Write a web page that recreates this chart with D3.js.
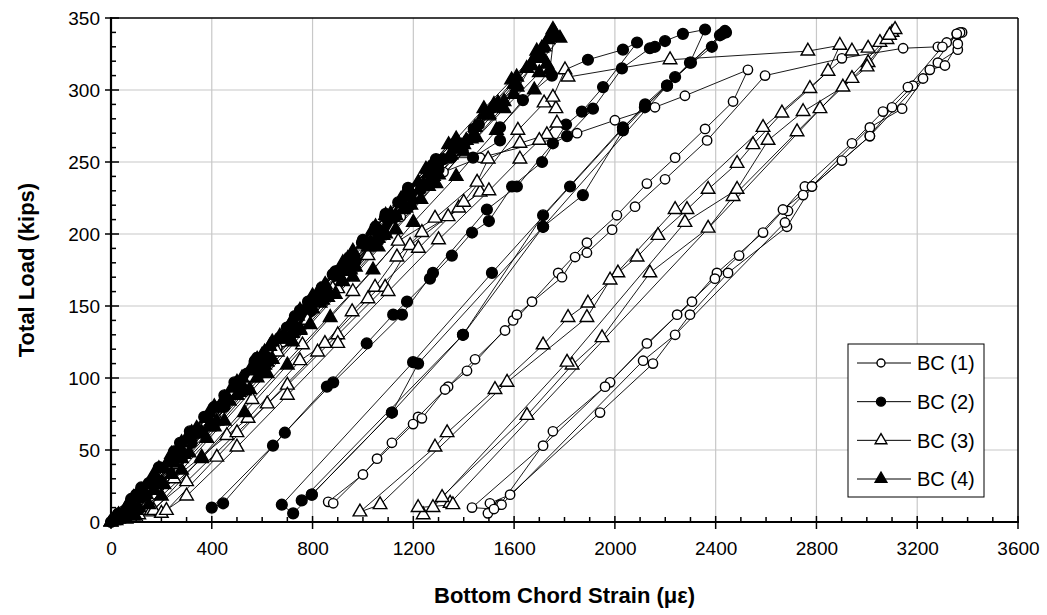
<!DOCTYPE html>
<html><head><meta charset="utf-8">
<script src="https://cdn.jsdelivr.net/npm/d3@7"></script>
<style>body{margin:0;background:#fff} text{font-family:"Liberation Sans",Arial,sans-serif;fill:#000}</style>
</head><body><svg id="c" width="1047" height="615"></svg>
<script>
const xTicks=[0,400,800,1200,1600,2000,2400,2800,3200,3600];
const yTicks=[0,50,100,150,200,250,300,350];
const seriesNames=["BC (1)","BC (2)","BC (3)","BC (4)"];
const xTitle="Bottom Chord Strain (\u03bc\u03b5)";
const yTitle="Total Load (kips)";

// [strain (microstrain), load (kips)] in test order
const bc1=[
[0,0],[50,8],[150,25],[290,52],[420,77],[550,101],[680,125],[810,150],[940,174],[1070,198],[1150,212],
[1060,195],[900,165],[740,135],[570,103],[400,71],[230,40],[90,14],[30,3],
[40,4],[120,18],[260,44],[400,71],[530,96],[660,121],[800,147],[930,171],[1060,196],[1190,220],[1320,243],[1465,253],
[1850,270],[2000,279],[2159,288],[2278,296],[2528,314],
[2469,292],[2358,273],[2239,253],[2127,235],[2008,213],[1889,194],[1775,173],[1671,153],[1564,133],[1445,113],[1338,94],[1219,73],[1115,55],[1056,44],[1000,33],[862,14],
[882,13],[1199,68],[1234,72],[1326,92],[1413,105],[1596,140],[1611,144],[1790,170],[1842,184],[1889,187],[1989,203],[2080,219],[2199,238],[2366,265],[2596,310],
[2901,322],[3144,329],[3282,330],[3317,333],[3357,339],[3378,340],
[3361,328],[3282,319],[3183,303],[3100,288],[3012,268],[2901,251],[2782,233],[2683,205],[2449,173],[2298,144],[2151,110],[1941,76],[1584,19],[1504,13],
[1496,6],[1544,12],[1754,63],[1981,97],[2127,124],[2306,153],[2405,173],[2588,201],[2754,233],[2941,263],[3064,285],[3163,302],[3300,330],[3370,340],
[3361,332],[3310,317],[3250,314],[3140,287],[3012,274],[2747,227],[2687,216],[2675,208],[2239,130],[2112,112],[1550,12],[1520,9],
[1433,10],[1715,53],[1961,94],[2247,144],[2397,169],[2493,185],[2667,217],[2782,233],[3012,268],[3223,308],[3357,339]
];
const bc2=[
[0,0],[30,6],[120,24],[194,38],[274,55],[370,73],[490,97],[571,112],[698,135],[782,153],[880,172],[996,194],[1088,212],[1140,222],
[1050,205],[890,174],[730,143],[570,111],[410,80],[250,49],[100,19],[20,3],
[10,2],[80,16],[190,38],[313,63],[450,88],[580,114],[750,147],[837,163],[897,174],[1000,196],[1090,214],[1179,232],[1290,252],[1353,262],
[1290,245],[1130,212],[950,177],[770,142],[590,107],[410,72],[230,37],[90,10],
[30,3],[150,27],[280,53],[410,78],[540,103],[670,128],[800,153],[930,178],[1060,203],[1190,228],[1320,252],[1440,273],[1520,288],
[1460,276],[1300,245],[1130,212],[960,179],[790,146],[620,113],[450,80],[280,47],[120,17],[40,4],
[60,6],[190,29],[320,55],[450,80],[580,105],[710,130],[840,156],[970,181],[1100,206],[1230,231],[1350,253],[1437,253],[1544,265],[1544,274],[1635,293],[1750,310],
[1893,321],[2032,328],[2088,333],
[1953,302],[1869,285],[1806,276],[1711,250],[1592,233],[1500,209],[1433,201],[1353,185],[1266,169],[1175,153],[1120,144],[1015,124],[857,94],[643,53],[400,10],
[445,13],[690,62],[882,97],[1155,144],[1278,173],[1492,217],[1611,233],[1754,263],[1810,268],[1913,287],[2028,315],
[2139,329],[2159,330],[2199,334],[2270,339],[2358,342],
[2298,319],[2207,303],[2119,288],[2032,272],[1873,227],[1715,205],[1397,130],[1115,76],[797,19],[723,6],
[678,12],[1199,111],[1512,173],[1822,233],[2120,290],[2239,309],[2385,330],[2417,338],
[2437,341],[2302,319],[2032,274],[1715,213],[1397,130],[757,15],
[797,19],[1115,76],[1219,110],[1715,205],[2207,303],[2425,339],[2441,340]
];
const bc3=[
[0,0],[70,8],[180,28],[300,50],[420,72],[540,95],[660,118],[780,140],[900,162],[1020,185],[1120,203],
[1040,192],[880,162],[720,132],[560,100],[400,70],[250,40],[147,7],[100,3],
[110,5],[250,30],[460,60],[544,72],[750,112],[849,124],[957,146],[1048,163],[1135,184],[1234,201],[1338,212],[1465,229],
[1380,218],[1187,192],[1088,163],[900,130],[700,95],[500,62],[300,28],[160,8],
[170,8],[360,45],[560,85],[760,123],[960,160],[1140,195],[1286,211],[1453,236],[1497,252],[1623,263],[1730,269],[1770,277],
[1700,265],[1623,252],[1500,230],[1300,196],[1100,160],[900,124],[700,88],[500,52],[300,18],[200,6],
[220,8],[420,45],[620,82],[820,118],[1020,155],[1220,190],[1400,222],[1615,272],[1719,291],[1766,287],[1754,295],[1802,314],[1814,309],
[2219,321],[2766,327],[2893,331],
[2846,313],[2774,301],[2663,284],[2548,262],[2485,249],[2370,231],[2286,217],[2171,199],[2088,184],[2012,173],[1893,152],[1814,142],[1715,123],[1524,92],[1334,62],[1286,52],[988,7],
[1068,12],[1572,97],[1889,142],[1981,168],[2239,217],[2588,274],[2941,327],[3005,329],[3052,333],[3100,340],
[3080,335],[3005,319],[2941,308],[2814,287],[2723,271],[2469,226],[2370,204],[2139,173],[1949,128],[1830,109],[1651,74],[1239,5],
[1278,10],[1810,111],[2278,208],[2485,231],[2608,265],[2747,285],[2905,302],[3001,316],[3112,342],
[3090,338],[1346,13],[1314,17],[1357,12],[1219,10]
];
const bc4=[
[0,0],[30,5],[90,17],[190,37],[300,58],[410,79],[520,100],[630,122],[740,143],[850,165],[960,187],[1040,203],
[960,188],[800,157],[640,125],[480,93],[320,62],[170,32],[60,10],[10,1],
[10,2],[70,13],[170,33],[280,55],[390,76],[500,97],[610,118],[720,140],[830,161],[940,183],[1050,205],[1160,226],[1270,247],[1340,262],
[1250,245],[1090,213],[920,180],[750,147],[580,113],[410,80],[240,47],[100,18],[20,3],
[20,2],[120,21],[230,43],[340,65],[450,86],[560,108],[670,129],[780,151],[890,172],[1000,193],[1110,214],[1220,236],[1260,242],
[1190,226],[1030,194],[860,161],[690,128],[520,95],[350,62],[180,29],[70,8],[20,1],
[30,3],[140,19],[250,41],[360,62],[470,84],[580,105],[690,127],[800,148],[910,170],[1020,191],[1130,213],[1240,234],[1350,255],[1445,274],[1536,291],[1612,302],
[1560,292],[1430,266],[1260,233],[1090,200],[920,167],[750,133],[580,100],[410,66],[240,33],[110,10],
[50,4],[170,22],[280,44],[390,66],[500,88],[610,109],[720,131],[830,152],[940,174],[1050,196],[1160,217],[1270,239],[1380,260],[1410,265],[1480,283],[1610,309],[1665,317],[1710,329],[1754,342],
[1734,335],[1670,317],[1600,297],[1450,267],[1290,235],[1130,203],[960,170],[790,137],[620,103],[450,70],[280,36],[150,12],[60,2],
[70,6],[180,26],[290,47],[400,68],[510,90],[620,111],[730,133],[840,154],[950,175],[1060,197],[1170,218],[1280,240],[1390,261],[1500,282],[1610,304],[1700,322],[1730,318],
[1700,312],[1560,287],[1400,257],[1230,224],[1060,191],[890,158],[720,125],[550,92],[380,58],[210,26],[100,8],[30,2],
[90,6],[200,27],[310,48],[420,70],[530,91],[640,113],[750,134],[860,156],[970,177],[1080,199],[1190,220],[1300,241],[1400,262],[1500,283],[1600,304],[1680,322],[1715,322],[1782,336],[1760,340],
[1742,314],[1680,300],[1530,272],[1370,240],[1200,208],[1040,175],[870,142],[700,109],[530,76],[360,44],[200,18],[90,4],
[50,6],[160,28],[270,50],[380,72],[490,94],[600,116],[710,137],[820,159],[930,181],[1040,202],[1150,224],[1260,245],[1370,266],[1480,287],[1590,307],[1690,327],[1745,338],
[1720,330],[1650,315],[1520,290],[1360,259],[1190,226],[1020,193],[850,160],[680,127],[510,94],[340,61],[170,29],[60,9],[0,0]
];

const series=[
 {name:seriesNames[0],data:bc1,marker:"circle",fill:"#fff"},
 {name:seriesNames[1],data:bc2,marker:"circle",fill:"#000"},
 {name:seriesNames[2],data:bc3,marker:"triangle",fill:"#fff"},
 {name:seriesNames[3],data:bc4,marker:"triangle",fill:"#000"}
];

const svg=d3.select("#c");
const L=111,R=1018,T=18,B=522;
const x=d3.scaleLinear().domain([0,3600]).range([L,R]);
const y=d3.scaleLinear().domain([0,350]).range([B,T]);

// grid
const grid=svg.append("g").attr("stroke","#c8c8c8").attr("stroke-width",1.2);
grid.selectAll(".gx").data(xTicks.slice(1,-1)).enter().append("line")
 .attr("x1",d=>x(d)).attr("x2",d=>x(d)).attr("y1",T).attr("y2",B);
grid.selectAll(".gy").data(yTicks.slice(1,-1)).enter().append("line")
 .attr("x1",L).attr("x2",R).attr("y1",d=>y(d)).attr("y2",d=>y(d));

// frame top/right
svg.append("line").attr("x1",L).attr("x2",R).attr("y1",T).attr("y2",T).attr("stroke","#000").attr("stroke-width",1.5);
svg.append("line").attr("x1",R).attr("x2",R).attr("y1",T).attr("y2",B).attr("stroke","#000").attr("stroke-width",1.5);

// data
const plot=svg.append("g");
const line=d3.line().x(d=>x(d[0])).y(d=>y(d[1]));
series.forEach(s=>{
  plot.append("path").attr("d",line(s.data)).attr("fill","none").attr("stroke","#000").attr("stroke-width",0.9);
});
const tri=d3.symbol().type(d3.symbolTriangle).size(80);
const triL=d3.symbol().type(d3.symbolTriangle).size(60);
series.forEach(s=>{
  const g=plot.append("g");
  if(s.marker==="circle"){
    g.selectAll("circle").data(s.data).enter().append("circle")
     .attr("cx",d=>x(d[0])).attr("cy",d=>y(d[1]))
     .attr("r",s.fill==="#000"?5.4:4.7)
     .attr("fill",s.fill).attr("stroke","#000").attr("stroke-width",1.4);
  } else {
    g.selectAll("path").data(s.data).enter().append("path")
     .attr("d",tri).attr("transform",d=>`translate(${x(d[0])},${y(d[1])})`)
     .attr("fill",s.fill).attr("stroke","#000").attr("stroke-width",1.4);
  }
});

// axes
const ax=svg.append("g");
const fmt=d3.format("d");
const yAxis=d3.axisLeft(y).tickValues(yTicks).tickFormat(fmt).tickSize(0).tickPadding(11);
const yg=svg.append("g").attr("transform",`translate(${L},0)`).call(yAxis);
yg.select(".domain").remove();
yg.selectAll("text").attr("font-size",19).attr("font-family","Liberation Sans, Arial, sans-serif");
const xAxis=d3.axisBottom(x).tickValues(xTicks).tickFormat(fmt).tickSize(0).tickPadding(20);
const xg=svg.append("g").attr("transform",`translate(0,${B})`).call(xAxis);
xg.select(".domain").remove();
xg.selectAll("text").attr("font-size",19).attr("font-family","Liberation Sans, Arial, sans-serif");

// minor/major ticks
const yMinor=y.ticks(35);
ax.selectAll(".ymin").data(yMinor).enter().append("line")
 .attr("x1",L).attr("x2",d=>yTicks.includes(d)?L-6:L+5).attr("y1",d=>y(d)).attr("y2",d=>y(d))
 .attr("stroke","#000").attr("stroke-width",1.5);
ax.selectAll(".ymaj").data(yTicks).enter().append("line")
 .attr("x1",L).attr("x2",L+8).attr("y1",d=>y(d)).attr("y2",d=>y(d))
 .attr("stroke","#000").attr("stroke-width",1.5);
const xMinor=x.ticks(36);
ax.selectAll(".xmin").data(xMinor).enter().append("line")
 .attr("y1",B).attr("y2",d=>xTicks.includes(d)?B+7:B-5).attr("x1",d=>x(d)).attr("x2",d=>x(d))
 .attr("stroke","#000").attr("stroke-width",1.5);
ax.selectAll(".xmaj").data(xTicks).enter().append("line")
 .attr("y1",B).attr("y2",B-6).attr("x1",d=>x(d)).attr("x2",d=>x(d))
 .attr("stroke","#000").attr("stroke-width",1.5);
ax.append("line").attr("x1",L).attr("x2",L).attr("y1",T-1).attr("y2",B+1).attr("stroke","#000").attr("stroke-width",2.2);
ax.append("line").attr("x1",L-1).attr("x2",R+1).attr("y1",B).attr("y2",B).attr("stroke","#000").attr("stroke-width",2.2);

// titles
svg.append("text").attr("x",(L+R)/2).attr("y",603).attr("text-anchor","middle")
 .attr("font-size",22).attr("font-weight","bold").text(xTitle);
svg.append("text").attr("transform","translate(34,270) rotate(-90)").attr("text-anchor","middle")
 .attr("font-size",22).attr("font-weight","bold").text(yTitle);

// legend
const lg=svg.append("g");
lg.append("rect").attr("x",848).attr("y",344).attr("width",136).attr("height",153)
 .attr("fill","#fff").attr("stroke","#000").attr("stroke-width",1);
const ly=d3.scalePoint().domain(seriesNames).range([363,479]);
series.forEach(s=>{
  const yy=ly(s.name);
  lg.append("line").attr("x1",857).attr("x2",911).attr("y1",yy).attr("y2",yy).attr("stroke","#000").attr("stroke-width",1);
  if(s.marker==="circle"){
    lg.append("circle").attr("cx",881).attr("cy",yy).attr("r",s.fill==="#000"?4.5:4).attr("fill",s.fill).attr("stroke","#000").attr("stroke-width",1.4);
  } else {
    lg.append("path").attr("d",triL).attr("transform",`translate(881,${yy})`).attr("fill",s.fill).attr("stroke","#000").attr("stroke-width",1.4);
  }
  lg.append("text").attr("x",917).attr("y",yy).attr("dy","0.36em").attr("font-size",20).text(s.name);
});
</script></body></html>
